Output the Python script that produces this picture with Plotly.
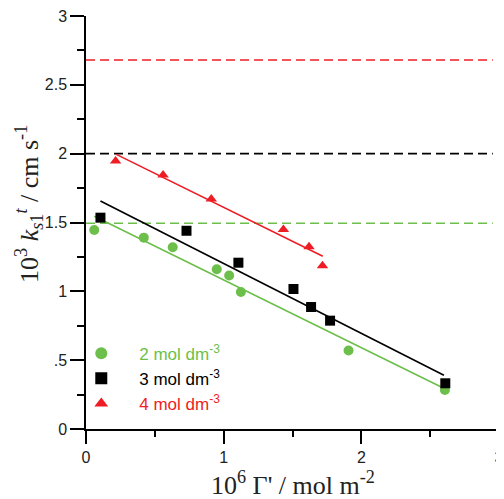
import plotly.graph_objects as go

# ---- data ----
x_2M = [0.06, 0.42, 0.63, 0.95, 1.04, 1.125, 1.907, 2.607]
y_2M = [1.445, 1.39, 1.32, 1.16, 1.115, 0.995, 0.57, 0.283]

x_3M = [0.105, 0.73, 1.107, 1.507, 1.635, 1.773, 2.61]
y_3M = [1.535, 1.44, 1.208, 1.017, 0.886, 0.787, 0.332]

x_4M = [0.215, 0.56, 0.91, 1.434, 1.62, 1.718]
y_4M = [1.946, 1.845, 1.67, 1.45, 1.324, 1.186]

fit_x_2M = [0.06, 2.61]
fit_y_2M = [1.545, 0.29]
fit_x_3M = [0.105, 2.6]
fit_y_3M = [1.656, 0.39]
fit_x_4M = [0.22, 1.72]
fit_y_4M = [1.995, 1.255]

limit_x = [0.0, 2.955]
limit_2M = 1.495
limit_3M = 2.0
limit_4M = 2.68

labels = ["2 mol dm<sup>-3</sup>", "3 mol dm<sup>-3</sup>", "4 mol dm<sup>-3</sup>"]
x_tickvals = [0, 1, 2, 3]
x_ticktext = ["0", "1", "2", "3"]
y_tickvals = [0, 0.5, 1, 1.5, 2, 2.5, 3]
y_ticktext = ["0", ".5", "1", "1.5", "2", "2.5", "3"]

x_title = "10<sup>6</sup> Γ' / mol m<sup>-2</sup>"
y_title = "10<sup>3</sup> <i>k</i><sub><i>s</i>1</sub><sup><i>t</i></sup> / cm s<sup>-1</sup>"

GREEN = "#6cbf4a"
BLACK = "#000000"
RED = "#ee1c24"

fig = go.Figure()

# dashed limit lines
for yv, c in [(limit_4M, RED), (limit_3M, BLACK), (limit_2M, GREEN)]:
    fig.add_trace(go.Scatter(x=limit_x, y=[yv, yv], mode="lines",
                             line=dict(color=c, width=1.6, dash="9px,5px"),
                             showlegend=False, hoverinfo="skip"))

# fit lines
for fx, fy, c in [(fit_x_2M, fit_y_2M, GREEN), (fit_x_3M, fit_y_3M, BLACK), (fit_x_4M, fit_y_4M, RED)]:
    fig.add_trace(go.Scatter(x=fx, y=fy, mode="lines", line=dict(color=c, width=1.6),
                             showlegend=False, hoverinfo="skip"))

# points
fig.add_trace(go.Scatter(x=x_2M, y=y_2M, mode="markers",
                         marker=dict(symbol="circle", size=10, color=GREEN),
                         name=f"<span style='color:{GREEN}'>{labels[0]}</span>"))
fig.add_trace(go.Scatter(x=x_3M, y=y_3M, mode="markers",
                         marker=dict(symbol="square", size=10, color=BLACK),
                         name=f"<span style='color:{BLACK}'>{labels[1]}</span>"))
fig.add_trace(go.Scatter(x=x_4M, y=y_4M, mode="markers",
                         marker=dict(symbol="triangle-up", size=10, color=RED),
                         name=f"<span style='color:{RED}'>{labels[2]}</span>"))

axis_common = dict(showline=True, linecolor="black", linewidth=1.5, showgrid=False,
                   zeroline=False, ticks="outside", tickcolor="black", tickwidth=1.5,
                   tickfont=dict(family="Liberation Sans, Arial", size=16, color="#222"),
                   mirror=False, automargin=False, ticklabeloverflow="allow")

fig.update_xaxes(range=[0, 3], tickvals=x_tickvals, ticktext=x_ticktext, ticklen=13,
                 minor=dict(ticks="outside", dtick=0.5, ticklen=6, tickcolor="black", tickwidth=1.5),
                 **axis_common)
fig.update_yaxes(range=[0, 3], tickvals=y_tickvals, ticktext=y_ticktext, ticklen=14,
                 minor=dict(ticks="outside", dtick=0.25, ticklen=7, tickcolor="black", tickwidth=1.5),
                 **axis_common)

serif = "Liberation Serif, Times New Roman"
fig.add_annotation(text=x_title, xref="paper", yref="paper", x=0.5, y=0,
                   xanchor="center", yanchor="middle", yshift=-54, showarrow=False,
                   font=dict(family=serif, size=26, color="#222"))
fig.add_annotation(text=y_title, xref="paper", yref="paper", x=0, y=0.545,
                   xanchor="center", yanchor="middle", xshift=-57, textangle=-90, showarrow=False,
                   font=dict(family=serif, size=26, color="#222"))

# the page body adds an 8px margin, so the figure is 8px smaller than the window
fig.update_layout(
    width=496, height=491,
    margin=dict(l=78, r=5, t=8, b=70),
    plot_bgcolor="white", paper_bgcolor="white",
    legend=dict(x=-0.055, y=0.226, xanchor="left", yanchor="top",
                bgcolor="rgba(0,0,0,0)", itemwidth=66,
                font=dict(family="Liberation Sans, Arial", size=17),
                itemsizing="constant"),
)

fig.write_html("out.html")
